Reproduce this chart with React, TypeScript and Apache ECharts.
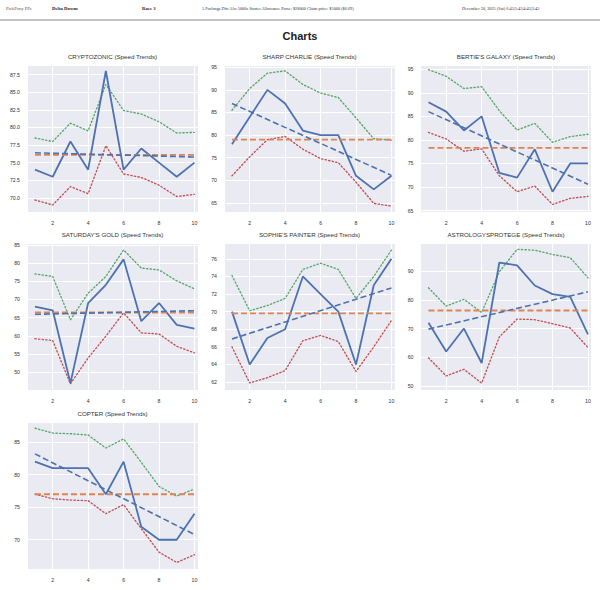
import React, { useEffect, useRef } from "react";
import * as echarts from "echarts";

// ---------- data ----------
const raceNumbers = [1, 2, 3, 4, 5, 6, 7, 8, 9, 10];
const xTickLabels = ["2", "4", "6", "8", "10"];

const horseNames = [
  "CRYPTOZONIC",
  "SHARP CHARLIE",
  "BERTIE'S GALAXY",
  "SATURDAY'S GOLD",
  "SOPHIE'S PAINTER",
  "ASTROLOGYSPROTEGE",
  "COPTER",
];

const cryptozonicSpeed = [74, 73, 78, 74, 88, 74, 77, 75, 73, 75];
const cryptozonicUpper = [78.5, 78.0, 80.6, 79.5, 86.1, 82.4, 81.9, 80.8, 79.2, 79.3];
const cryptozonicLower = [69.7, 69.0, 71.6, 70.6, 77.4, 73.4, 72.9, 71.8, 70.2, 70.5];

const sharpCharlieSpeed = [78, 84, 90, 87, 81, 80, 80, 71, 68, 71];
const sharpCharlieUpper = [85.5, 90.3, 93.7, 94.2, 91.2, 89.3, 88.3, 83.8, 79.2, 78.9];
const sharpCharlieLower = [71.0, 75.2, 79.0, 79.7, 76.9, 74.8, 73.9, 69.6, 64.9, 64.3];

const bertiesGalaxySpeed = [88, 86, 82, 85, 73, 72, 78, 69, 75, 75];
const bertiesGalaxyUpper = [94.9, 93.5, 90.9, 91.3, 86.2, 82.1, 83.5, 79.5, 80.7, 81.2];
const bertiesGalaxyLower = [81.6, 80.2, 77.6, 78.1, 72.4, 69.0, 70.2, 66.3, 67.6, 68.0];

const saturdaysGoldSpeed = [68, 67, 47, 69, 74, 81, 64, 69, 63, 62];
const saturdaysGoldUpper = [77.0, 76.3, 64.4, 71.7, 76.3, 83.6, 78.6, 78.1, 75.1, 72.9];
const saturdaysGoldLower = [59.2, 58.7, 46.8, 53.9, 59.9, 66.3, 60.8, 60.5, 57.1, 55.3];

const sophiesPainterSpeed = [70, 64, 67, 68, 74, 72, 70, 64, 73, 76];
const sophiesPainterUpper = [74.1, 70.1, 70.7, 71.5, 74.8, 75.5, 74.8, 71.5, 74.0, 77.0];
const sophiesPainterLower = [66.0, 61.9, 62.5, 63.3, 66.7, 67.3, 66.6, 63.2, 66.0, 69.0];

const astrologysprotegeSpeed = [72, 62, 70, 58, 93, 92, 85, 82, 81, 68];
const astrologysprotegeUpper = [84.2, 77.8, 80.2, 75.6, 89.8, 97.6, 97.3, 95.8, 94.7, 87.7];
const astrologysprotegeLower = [59.8, 53.5, 55.8, 51.0, 67.1, 73.3, 73.1, 71.7, 70.2, 63.4];

const copterSpeed = [82, 81, 81, 81, 77, 82, 72, 70, 70, 74];
const copterUpper = [87.15, 86.4, 86.3, 86.1, 84.1, 85.5, 81.9, 78.2, 76.7, 77.8];
const copterLower = [77.0, 76.3, 76.1, 76.0, 74.0, 75.4, 71.7, 68.1, 66.5, 67.7];

const speedSeries = [
  cryptozonicSpeed, sharpCharlieSpeed, bertiesGalaxySpeed, saturdaysGoldSpeed,
  sophiesPainterSpeed, astrologysprotegeSpeed, copterSpeed,
];
const upperSeries = [
  cryptozonicUpper, sharpCharlieUpper, bertiesGalaxyUpper, saturdaysGoldUpper,
  sophiesPainterUpper, astrologysprotegeUpper, copterUpper,
];
const lowerSeries = [
  cryptozonicLower, sharpCharlieLower, bertiesGalaxyLower, saturdaysGoldLower,
  sophiesPainterLower, astrologysprotegeLower, copterLower,
];

const meanSpeeds = [76.1, 79.0, 78.3, 66.4, 69.8, 76.3, 77.0];
const trendStarts = [76.4, 87.0, 86.0, 65.9, 66.9, 69.8, 83.2];
const trendEnds = [75.8, 71.1, 70.6, 66.9, 72.7, 82.8, 70.8];

const yMins = [68.0, 63.0, 64.7, 45.1, 61.1, 48.6, 65.5];
const yMaxs = [88.85, 95.5, 95.9, 85.5, 77.8, 99.8, 88.1];
const ySteps = [2.5, 5, 5, 5, 2, 10, 5];
const yDecimals = [1, 0, 0, 0, 0, 0, 0];

const headerTrack = "Delta Downs";
const headerRace = "Race 3";
const headerConditions =
  "5 Furlongs Dirt Alw 5000s Starter Allowance Purse: $28000 Claim price: $5000 ($6.69)";
const headerDate = "December 20, 2025 (Sat) 6:45|5:45|4:45|3:45";

// ---------- layout / style ----------
const BLUE = "#4C72B0";
const ORANGE = "#DD8452";
const GREEN = "#55A868";
const RED = "#C44E52";
const SANS = "'Liberation Sans', Arial, sans-serif";
const SERIF = "'Liberation Serif', 'DejaVu Serif', serif";

const colLeft = [27, 224, 420.5];
const rowTop = [65, 243, 422];
const plotW = 171;
const plotH = 147;
const X_MIN = 0.55;
const X_MAX = 10.2;

function buildOption() {
  const grids: any[] = [];
  const xAxes: any[] = [];
  const yAxes: any[] = [];
  const series: any[] = [];
  const graphics: any[] = [];

  horseNames.forEach((name, i) => {
    const col = i % 3;
    const row = Math.floor(i / 3);
    const left = colLeft[col];
    const top = rowTop[row];
    grids.push({
      left,
      top,
      width: plotW,
      height: plotH,
      show: true,
      backgroundColor: "#EAEAF2",
      borderWidth: 0,
      containLabel: false,
    });
    xAxes.push({
      gridIndex: i,
      type: "value",
      min: X_MIN,
      max: X_MAX,
      minInterval: 2,
      maxInterval: 2,
      axisLine: { show: false },
      axisTick: { show: false },
      axisLabel: {
        showMinLabel: false,
        showMaxLabel: false,
        fontSize: 5.2,
        color: "#333",
        margin: 8,
        fontFamily: SANS,
        formatter: (v: number) => {
          const s = String(Math.round(v));
          return xTickLabels.includes(s) ? s : "";
        },
      },
      splitLine: { show: true, lineStyle: { color: "#ffffff", width: 1 } },
    });
    yAxes.push({
      gridIndex: i,
      type: "value",
      min: yMins[i],
      max: yMaxs[i],
      minInterval: ySteps[i],
      maxInterval: ySteps[i],
      axisLine: { show: false },
      axisTick: { show: false },
      axisLabel: {
        showMinLabel: false,
        showMaxLabel: false,
        fontSize: 5.2,
        color: "#333",
        margin: 7,
        fontFamily: SANS,
        formatter: (v: number) => v.toFixed(yDecimals[i]),
      },
      splitLine: { show: true, lineStyle: { color: "#ffffff", width: 1 } },
    });

    const base = {
      type: "line",
      xAxisIndex: i,
      yAxisIndex: i,
      symbol: "none",
      showSymbol: false,
      silent: true,
      clip: true,
    };
    const first = raceNumbers[0];
    const last = raceNumbers[raceNumbers.length - 1];
    series.push({
      ...base,
      name: "upper",
      data: raceNumbers.map((r, k) => [r, upperSeries[i][k]]),
      lineStyle: { color: GREEN, width: 1.35, type: [1.3, 2.3], cap: "round" },
      z: 2,
    });
    series.push({
      ...base,
      name: "lower",
      data: raceNumbers.map((r, k) => [r, lowerSeries[i][k]]),
      lineStyle: { color: RED, width: 1.35, type: [1.3, 2.3], cap: "round" },
      z: 2,
    });
    series.push({
      ...base,
      name: "speed",
      data: raceNumbers.map((r, k) => [r, speedSeries[i][k]]),
      lineStyle: { color: BLUE, width: 1.8, type: "solid" },
      z: 3,
    });
    series.push({
      ...base,
      name: "mean",
      data: [
        [first, meanSpeeds[i]],
        [last, meanSpeeds[i]],
      ],
      lineStyle: { color: ORANGE, width: 1.9, type: [6, 3] },
      z: 4,
    });
    series.push({
      ...base,
      name: "trend",
      data: [
        [first, trendStarts[i]],
        [last, trendEnds[i]],
      ],
      lineStyle: { color: BLUE, width: 1.6, type: [6, 3] },
      z: 4,
    });

    graphics.push({
      type: "text",
      x: left + plotW / 2,
      y: top - 9,
      style: {
        text: `${name} (Speed Trends)`,
        fontSize: 6.2,
        fontFamily: SANS,
        fill: "#333",
        align: "center",
        verticalAlign: "middle",
      },
    });
  });

  // header
  const headerY = 8;
  graphics.push(
    {
      type: "text",
      x: 6,
      y: headerY,
      style: { text: "PickPony PPs", fontSize: 4.6, fontFamily: SERIF, fill: "#555", verticalAlign: "middle" },
    },
    {
      type: "text",
      x: 52,
      y: headerY,
      style: { text: headerTrack, fontSize: 4.8, fontWeight: "bold", fontFamily: SERIF, fill: "#222", verticalAlign: "middle" },
    },
    {
      type: "text",
      x: 142,
      y: headerY,
      style: { text: headerRace, fontSize: 4.8, fontWeight: "bold", fontFamily: SERIF, fill: "#222", verticalAlign: "middle" },
    },
    {
      type: "text",
      x: 202,
      y: headerY,
      style: { text: headerConditions, fontSize: 4.3, fontFamily: SERIF, fill: "#333", verticalAlign: "middle" },
    },
    {
      type: "text",
      x: 462,
      y: headerY,
      style: { text: headerDate, fontSize: 4.3, fontFamily: SERIF, fill: "#333", verticalAlign: "middle" },
    },
    {
      type: "line",
      shape: { x1: 0, y1: 20, x2: 600, y2: 20 },
      style: { stroke: "#b0b0b0", lineWidth: 1.6 },
    },
    {
      type: "text",
      x: 300,
      y: 36,
      style: {
        text: "Charts",
        fontSize: 11,
        fontWeight: "bold",
        fontFamily: SANS,
        fill: "#222",
        align: "center",
        verticalAlign: "middle",
      },
    }
  );

  return {
    animation: false,
    backgroundColor: "#ffffff",
    grid: grids,
    xAxis: xAxes,
    yAxis: yAxes,
    series,
    graphic: graphics,
  };
}

export default function App() {
  const ref = useRef<HTMLDivElement>(null);
  useEffect(() => {
    if (!ref.current) return;
    const chart = echarts.init(ref.current, undefined, { renderer: "svg" });
    chart.setOption(buildOption() as any);
    return () => chart.dispose();
  }, []);
  return (
    <div
      ref={ref}
      style={{ position: "absolute", left: 0, top: 0, width: 600, height: 590 }}
    />
  );
}
